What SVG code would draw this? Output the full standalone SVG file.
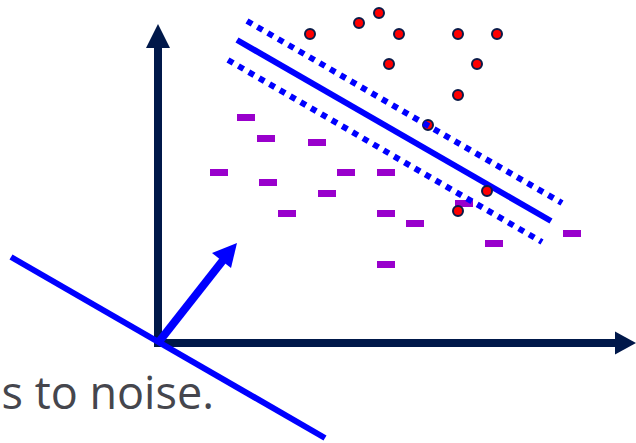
<svg xmlns="http://www.w3.org/2000/svg" width="636" height="443" viewBox="0 0 636 443">
<style>
.axis{stroke:#00184A;stroke-width:8;fill:none}
.axhead{fill:#00184A}
.blue{stroke:#0000FF;stroke-width:6;fill:none}
.dot{stroke:#0000FF;stroke-width:6;fill:none;stroke-dasharray:6 6}
.neg{fill:#9900CC}
.pos{fill:#FF0000;stroke:#0B1A48;stroke-width:2}
.txt{font-family:"Open Sans","Liberation Sans",sans-serif;font-size:45px;fill:#45464D}
</style>
<rect width="636" height="443" fill="#FFFFFF"/>
<text class="txt" x="214" y="409" text-anchor="end">s to noise.</text>
<g id="axes">
<line class="axis" x1="158" y1="343" x2="158" y2="46"/>
<polygon class="axhead" points="158,24 146,48 170,48"/>
<line class="axis" x1="154" y1="343" x2="617" y2="343"/>
<polygon class="axhead" points="636,343 615,331.5 615,354.5"/>
</g>
<g id="hyperplane">
<line class="blue" x1="11" y1="257" x2="325" y2="438"/>
<line stroke="#0000FF" stroke-width="8" x1="158" y1="343" x2="224" y2="259"/>
<polygon fill="#0000FF" points="237,243 212,253 231,268"/>
</g>
<g id="separator">
<line class="blue" x1="237" y1="40" x2="551" y2="221"/>
</g>
<g id="negatives">
<rect class="neg" x="237" y="114" width="18" height="7"/>
<rect class="neg" x="257" y="135" width="18" height="7"/>
<rect class="neg" x="308" y="139" width="18" height="7"/>
<rect class="neg" x="210" y="169" width="18" height="7"/>
<rect class="neg" x="337" y="169" width="18" height="7"/>
<rect class="neg" x="377" y="169" width="18" height="7"/>
<rect class="neg" x="259" y="179" width="18" height="7"/>
<rect class="neg" x="318" y="190" width="18" height="7"/>
<rect class="neg" x="278" y="210" width="18" height="7"/>
<rect class="neg" x="377" y="210" width="18" height="7"/>
<rect class="neg" x="406" y="220" width="18" height="7"/>
<rect class="neg" x="377" y="261" width="18" height="7"/>
<rect class="neg" x="455" y="200" width="18" height="7"/>
<rect class="neg" x="563" y="230" width="18" height="7"/>
<rect class="neg" x="485" y="240" width="18" height="7"/>
</g>
<g id="positives">
<circle class="pos" cx="310" cy="34" r="5"/>
<circle class="pos" cx="359" cy="23" r="5"/>
<circle class="pos" cx="379" cy="13" r="5"/>
<circle class="pos" cx="399" cy="34" r="5"/>
<circle class="pos" cx="458" cy="34" r="5"/>
<circle class="pos" cx="497" cy="34" r="5"/>
<circle class="pos" cx="389" cy="64" r="5"/>
<circle class="pos" cx="477" cy="64" r="5"/>
<circle class="pos" cx="458" cy="95" r="5"/>
<circle class="pos" cx="428" cy="125" r="5"/>
<circle class="pos" cx="487" cy="191" r="5"/>
<circle class="pos" cx="458" cy="211" r="5"/>
</g>
<g id="margins">
<line class="dot" x1="247" y1="21" x2="562" y2="203"/>
<line class="dot" x1="228" y1="60" x2="542" y2="242"/>
</g>
</svg>
